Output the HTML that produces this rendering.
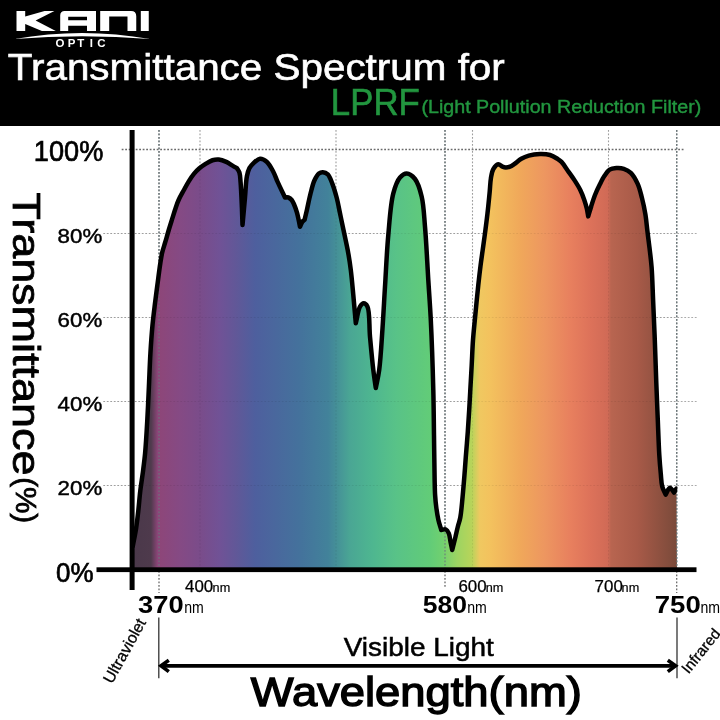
<!DOCTYPE html>
<html><head><meta charset="utf-8"><style>
html,body{margin:0;padding:0;background:#fff;width:720px;height:720px;overflow:hidden}
svg{display:block;will-change:transform}
text{font-family:"Liberation Sans", sans-serif}
</style></head><body>
<svg width="720" height="720" viewBox="0 0 720 720">
<defs>
<linearGradient id="g" gradientUnits="userSpaceOnUse" x1="131" y1="0" x2="677" y2="0">
<stop offset="0.0000" stop-color="#4a384a"/>
<stop offset="0.0366" stop-color="#4e3a4c"/>
<stop offset="0.0485" stop-color="#8a4577"/>
<stop offset="0.0531" stop-color="#8d4679"/>
<stop offset="0.0897" stop-color="#854a84"/>
<stop offset="0.1264" stop-color="#7a4c8a"/>
<stop offset="0.1630" stop-color="#705296"/>
<stop offset="0.1941" stop-color="#605898"/>
<stop offset="0.2271" stop-color="#4e5f9e"/>
<stop offset="0.3095" stop-color="#44729c"/>
<stop offset="0.3608" stop-color="#42829a"/>
<stop offset="0.4011" stop-color="#4aa694"/>
<stop offset="0.4414" stop-color="#4eb690"/>
<stop offset="0.4835" stop-color="#58c288"/>
<stop offset="0.5476" stop-color="#62cc78"/>
<stop offset="0.5696" stop-color="#70d070"/>
<stop offset="0.5971" stop-color="#9cd462"/>
<stop offset="0.6245" stop-color="#b8d45a"/>
<stop offset="0.6392" stop-color="#f0c860"/>
<stop offset="0.6575" stop-color="#f3c25e"/>
<stop offset="0.7125" stop-color="#f0a85a"/>
<stop offset="0.7582" stop-color="#ed9660"/>
<stop offset="0.8040" stop-color="#e8805e"/>
<stop offset="0.8407" stop-color="#dd725a"/>
<stop offset="0.8736" stop-color="#d06a56"/>
<stop offset="0.8791" stop-color="#b86550"/>
<stop offset="0.9267" stop-color="#a85a48"/>
<stop offset="1.0000" stop-color="#7a4a3a"/>
</linearGradient>
<clipPath id="cp"><rect x="0" y="0" width="677.3" height="720"/></clipPath>
</defs>
<rect x="0" y="0" width="720" height="126" fill="#000"/>
<!-- logo -->
<g fill="#fff">
<path d="M16.5 11 H25.2 V16.4 L44.6 11 H54.4 L35.6 20.5 L55.8 30.9 H41.9 L25.2 24.1 V30.9 H16.5 Z"/>
<path fill-rule="evenodd" d="M60.2 30.9 V15.5 Q60.2 11 64.7 11 H96 V30.9 H87 V25.8 H68.2 V30.9 Z M68.2 16.8 H87 V20.2 H68.2 Z"/>
<path d="M100.2 31 V11 H131 Q136.25 11 136.25 16.3 V31 H127.5 V16.4 H109.2 V31 Z"/>
<path d="M140.8 11 H148.75 V31 H140.8 Z"/>
<path d="M14.4 39.1 Q82 26.8 150 39.1 Q82 33.3 14.4 39.1 Z"/>
</g>
<text x="55.5 67.8 77.2 89.8 97.2" y="46.8" font-size="11.5" font-weight="bold" fill="#fff">OPTIC</text>
<text x="7.8" y="79.6" font-size="36.7" fill="#fff" stroke="#fff" stroke-width="0.6" textLength="497" lengthAdjust="spacingAndGlyphs">Transmittance Spectrum for</text>
<text x="330.8" y="115.1" font-size="36" fill="#22963f" stroke="#22963f" stroke-width="0.6" textLength="89" lengthAdjust="spacingAndGlyphs">LPRF</text>
<text x="421.4" y="113.3" font-size="18" fill="#22963f" stroke="#22963f" stroke-width="0.4" textLength="279.9" lengthAdjust="spacingAndGlyphs">(Light Pollution Reduction Filter)</text>

<!-- grid -->
<g stroke="#6a6a6a" stroke-width="1.3" stroke-dasharray="1.8 1.7" fill="none">
<path d="M121.7 149.5 H684"/>
<path d="M159 130 V593"/>
<path d="M445 130 V588"/>
<path d="M676.7 130 V593"/>
</g>
<g stroke="#ababab" stroke-width="1.1" stroke-dasharray="1.8 1.7" fill="none">
<path d="M103.3 233.5 H697.5"/><path d="M103.3 317.5 H697.5"/><path d="M103.3 401.5 H697.5"/><path d="M103.3 485.5 H697.5"/>
<path d="M200 130 V572"/>
<path d="M336 130 V572"/>
<path d="M472.5 130 V572"/>
<path d="M608.5 130 V572"/>
</g>
<path d="M132.80 546.00 C133.90 540.10 135.19 534.12 136.10 528.30 C136.98 522.69 137.54 517.56 138.20 511.70 C138.94 505.14 139.49 497.57 140.30 490.80 C141.07 484.36 142.10 478.26 142.90 472.00 C143.70 465.76 144.44 460.44 145.10 453.30 C145.97 443.80 146.67 431.10 147.30 420.00 C147.93 408.90 148.38 397.81 148.90 386.70 C149.42 375.58 149.76 363.97 150.40 353.30 C150.99 343.47 151.67 333.80 152.50 325.00 C153.23 317.28 154.16 310.16 155.00 303.30 C155.76 297.10 156.47 291.84 157.30 285.60 C158.23 278.59 159.35 269.39 160.30 263.30 C160.96 259.05 161.36 256.08 162.20 252.50 C163.05 248.88 164.33 245.37 165.40 241.70 C166.51 237.88 167.61 233.82 168.75 230.00 C169.85 226.32 170.95 222.87 172.10 219.20 C173.30 215.38 174.61 210.95 175.80 207.50 C176.76 204.71 177.41 202.64 178.60 200.00 C180.01 196.86 182.14 193.23 183.90 190.00 C185.57 186.94 187.16 183.87 188.90 181.10 C190.51 178.53 192.09 176.08 193.90 173.90 C195.61 171.84 197.43 169.98 199.40 168.30 C201.34 166.65 203.43 165.23 205.60 163.90 C207.80 162.55 210.19 160.95 212.50 160.25 C214.57 159.62 216.59 159.39 218.75 159.60 C221.16 159.83 223.92 160.87 226.25 161.90 C228.49 162.89 230.59 164.49 232.50 165.60 C234.09 166.52 235.43 167.27 236.90 168.10 C237.73 169.57 238.79 170.66 239.40 172.50 C240.25 175.09 240.25 178.41 240.60 182.50 C241.15 188.95 241.57 199.91 241.90 207.50 C242.17 213.85 242.30 219.17 242.50 225.00 C243.33 215.83 244.23 206.08 245.00 197.50 C245.68 189.96 245.85 181.63 246.90 176.25 C247.57 172.85 248.19 170.36 249.40 168.10 C250.43 166.17 251.70 164.78 253.30 163.30 C255.14 161.61 257.71 158.91 260.00 158.70 C262.18 158.50 264.69 159.99 266.70 161.70 C269.27 163.88 271.47 168.28 273.30 171.70 C275.04 174.95 275.85 178.01 277.50 181.70 C279.60 186.39 282.50 192.23 285.00 197.50 C286.10 197.50 287.25 197.15 288.30 197.50 C289.49 197.89 290.63 198.65 291.70 200.00 C293.56 202.34 295.35 207.49 296.70 211.70 C298.18 216.33 298.90 221.70 300.00 226.70 C300.83 224.97 301.55 222.70 302.50 221.50 C303.15 220.68 303.90 220.37 304.60 219.80 C305.37 216.53 306.06 213.70 306.90 210.00 C308.00 205.17 309.26 198.48 310.60 193.30 C311.78 188.73 312.78 184.03 314.40 180.50 C315.68 177.71 317.19 174.83 318.90 173.50 C320.10 172.57 321.43 172.14 322.80 172.20 C324.38 172.27 326.38 173.04 327.80 174.40 C329.71 176.23 330.85 179.91 332.20 183.30 C333.87 187.49 335.41 192.86 336.70 197.80 C338.02 202.85 338.89 208.04 340.00 213.30 C341.15 218.76 342.25 223.97 343.50 230.00 C344.98 237.12 347.03 246.16 348.30 253.30 C349.37 259.31 350.03 263.86 350.80 270.00 C351.73 277.49 352.49 286.41 353.30 295.00 C354.16 304.14 354.97 313.87 355.80 323.30 C357.20 317.77 358.03 310.00 360.00 306.70 C361.07 304.91 362.45 303.31 363.70 303.30 C364.95 303.29 366.50 304.70 367.50 306.70 C369.92 311.57 369.06 326.44 370.00 336.70 C370.99 347.51 372.18 360.60 373.30 370.00 C374.12 376.92 374.97 382.00 375.80 388.00 C376.93 382.00 378.23 377.27 379.20 370.00 C380.67 359.01 381.53 342.20 382.50 328.30 C383.47 314.43 384.09 301.32 385.00 286.70 C386.01 270.40 386.80 251.29 388.30 235.00 C389.65 220.33 390.52 203.75 393.30 193.30 C395.08 186.62 397.12 180.80 400.00 177.50 C401.94 175.27 404.37 173.45 406.70 173.50 C409.34 173.56 412.72 176.14 415.00 179.00 C418.15 182.95 420.07 189.91 421.70 196.70 C423.76 205.28 424.02 215.26 425.00 226.70 C426.31 241.92 427.27 263.51 428.30 280.00 C429.19 294.29 430.05 304.81 430.80 320.00 C431.79 340.08 432.77 369.15 433.30 390.00 C433.73 406.82 433.78 420.68 434.00 435.60 C434.21 449.99 434.36 467.04 434.60 478.00 C434.75 484.94 434.77 489.77 435.10 495.00 C435.38 499.49 435.75 503.34 436.30 507.50 C436.85 511.68 437.51 516.09 438.40 520.00 C439.21 523.54 440.33 526.67 441.30 530.00 C442.83 529.83 444.66 528.97 445.90 529.50 C447.16 530.04 448.07 531.68 448.80 533.30 C449.78 535.47 449.93 538.91 450.50 541.70 C451.07 544.48 451.63 547.23 452.20 550.00 C453.30 545.57 454.49 540.90 455.50 536.70 C456.40 532.94 457.15 529.35 458.00 526.00 C458.76 523.00 459.64 520.99 460.30 517.50 C461.32 512.12 461.92 503.65 462.60 496.70 C463.28 489.75 463.86 482.58 464.40 475.80 C464.92 469.37 465.28 463.73 465.80 457.00 C466.40 449.19 467.22 439.81 467.80 431.70 C468.34 424.19 468.78 417.09 469.20 410.00 C469.61 403.20 469.91 397.04 470.30 390.00 C470.74 382.13 471.25 373.33 471.70 365.00 C472.15 356.67 472.42 348.03 473.00 340.00 C473.54 332.51 474.23 326.30 475.00 318.30 C475.95 308.38 477.27 294.55 478.30 285.00 C479.08 277.78 479.73 272.06 480.50 266.00 C481.20 260.43 481.96 255.39 482.70 250.00 C483.46 244.49 484.24 239.12 485.00 233.30 C485.84 226.94 486.73 220.10 487.50 213.30 C488.30 206.24 489.09 198.05 489.70 191.70 C490.18 186.70 490.20 182.31 490.90 178.30 C491.49 174.95 491.90 171.64 493.30 169.20 C494.51 167.09 496.62 164.41 498.30 164.20 C499.69 164.03 501.14 166.15 502.50 166.70 C503.63 167.16 504.63 167.47 505.80 167.50 C507.11 167.53 508.64 167.21 510.00 166.70 C511.45 166.15 512.65 165.25 514.20 164.20 C516.29 162.79 518.81 160.25 521.30 158.80 C523.68 157.41 525.99 156.37 528.80 155.60 C532.11 154.69 536.37 154.18 540.00 154.10 C543.42 154.03 546.98 154.13 550.00 155.00 C552.76 155.79 555.44 157.50 557.50 158.80 C559.10 159.81 560.12 160.47 561.50 161.90 C563.51 163.99 565.67 167.69 567.80 170.70 C570.03 173.85 572.48 177.12 574.60 180.40 C576.68 183.62 578.76 186.88 580.40 190.20 C581.97 193.38 583.21 196.73 584.30 199.90 C585.31 202.85 586.14 205.76 586.80 208.60 C587.42 211.25 587.73 213.80 588.20 216.40 C589.17 213.17 590.03 210.08 591.10 206.70 C592.28 202.97 593.51 198.77 595.00 195.00 C596.45 191.31 598.21 187.65 599.90 184.30 C601.45 181.22 602.96 178.15 604.70 175.60 C606.23 173.36 607.60 170.95 609.60 169.70 C611.50 168.52 613.99 168.26 616.30 168.10 C618.72 167.93 621.42 168.05 623.80 168.80 C626.26 169.58 628.70 170.77 630.80 172.80 C633.48 175.38 635.87 179.86 637.70 183.90 C639.63 188.16 640.65 192.93 641.90 197.80 C643.25 203.06 644.48 208.84 645.40 214.40 C646.31 219.94 646.72 225.53 647.40 231.10 C648.08 236.67 648.82 242.02 649.50 247.80 C650.23 254.02 651.04 259.88 651.60 267.20 C652.33 276.70 652.59 288.52 653.10 300.00 C653.66 312.67 654.27 326.42 654.80 340.00 C655.34 354.07 655.78 369.21 656.30 383.00 C656.78 395.80 657.29 407.84 657.80 420.00 C658.29 431.83 658.70 445.12 659.30 455.00 C659.74 462.27 660.26 468.25 660.80 473.90 C661.24 478.50 661.24 482.72 662.20 486.40 C663.01 489.51 664.53 491.93 665.70 494.70 C667.10 492.40 668.42 487.92 669.90 487.80 C671.21 487.70 672.63 491.00 674.00 492.60 C674.83 491.23 675.67 489.87 676.50 488.50 L677 570 L132.5 570 Z" fill="url(#g)"/>
<g stroke="#000" stroke-opacity="0.07" stroke-width="1.1" stroke-dasharray="1.8 1.7" fill="none">
<path d="M103.3 233.5 H677"/><path d="M103.3 317.5 H677"/><path d="M103.3 401.5 H677"/><path d="M103.3 485.5 H677"/>
<path d="M200 130 V570"/><path d="M336 130 V570"/><path d="M472.5 130 V570"/><path d="M608.5 130 V570"/>
</g>
<g stroke="#6a7a7e" stroke-opacity="0.75" stroke-width="1.4" stroke-dasharray="1.8 1.7" fill="none">
<path d="M159 130 V570"/><path d="M445 130 V570"/><path d="M676.7 130 V570"/>
</g>
<path d="M132.80 546.00 C133.90 540.10 135.19 534.12 136.10 528.30 C136.98 522.69 137.54 517.56 138.20 511.70 C138.94 505.14 139.49 497.57 140.30 490.80 C141.07 484.36 142.10 478.26 142.90 472.00 C143.70 465.76 144.44 460.44 145.10 453.30 C145.97 443.80 146.67 431.10 147.30 420.00 C147.93 408.90 148.38 397.81 148.90 386.70 C149.42 375.58 149.76 363.97 150.40 353.30 C150.99 343.47 151.67 333.80 152.50 325.00 C153.23 317.28 154.16 310.16 155.00 303.30 C155.76 297.10 156.47 291.84 157.30 285.60 C158.23 278.59 159.35 269.39 160.30 263.30 C160.96 259.05 161.36 256.08 162.20 252.50 C163.05 248.88 164.33 245.37 165.40 241.70 C166.51 237.88 167.61 233.82 168.75 230.00 C169.85 226.32 170.95 222.87 172.10 219.20 C173.30 215.38 174.61 210.95 175.80 207.50 C176.76 204.71 177.41 202.64 178.60 200.00 C180.01 196.86 182.14 193.23 183.90 190.00 C185.57 186.94 187.16 183.87 188.90 181.10 C190.51 178.53 192.09 176.08 193.90 173.90 C195.61 171.84 197.43 169.98 199.40 168.30 C201.34 166.65 203.43 165.23 205.60 163.90 C207.80 162.55 210.19 160.95 212.50 160.25 C214.57 159.62 216.59 159.39 218.75 159.60 C221.16 159.83 223.92 160.87 226.25 161.90 C228.49 162.89 230.59 164.49 232.50 165.60 C234.09 166.52 235.43 167.27 236.90 168.10 C237.73 169.57 238.79 170.66 239.40 172.50 C240.25 175.09 240.25 178.41 240.60 182.50 C241.15 188.95 241.57 199.91 241.90 207.50 C242.17 213.85 242.30 219.17 242.50 225.00 C243.33 215.83 244.23 206.08 245.00 197.50 C245.68 189.96 245.85 181.63 246.90 176.25 C247.57 172.85 248.19 170.36 249.40 168.10 C250.43 166.17 251.70 164.78 253.30 163.30 C255.14 161.61 257.71 158.91 260.00 158.70 C262.18 158.50 264.69 159.99 266.70 161.70 C269.27 163.88 271.47 168.28 273.30 171.70 C275.04 174.95 275.85 178.01 277.50 181.70 C279.60 186.39 282.50 192.23 285.00 197.50 C286.10 197.50 287.25 197.15 288.30 197.50 C289.49 197.89 290.63 198.65 291.70 200.00 C293.56 202.34 295.35 207.49 296.70 211.70 C298.18 216.33 298.90 221.70 300.00 226.70 C300.83 224.97 301.55 222.70 302.50 221.50 C303.15 220.68 303.90 220.37 304.60 219.80 C305.37 216.53 306.06 213.70 306.90 210.00 C308.00 205.17 309.26 198.48 310.60 193.30 C311.78 188.73 312.78 184.03 314.40 180.50 C315.68 177.71 317.19 174.83 318.90 173.50 C320.10 172.57 321.43 172.14 322.80 172.20 C324.38 172.27 326.38 173.04 327.80 174.40 C329.71 176.23 330.85 179.91 332.20 183.30 C333.87 187.49 335.41 192.86 336.70 197.80 C338.02 202.85 338.89 208.04 340.00 213.30 C341.15 218.76 342.25 223.97 343.50 230.00 C344.98 237.12 347.03 246.16 348.30 253.30 C349.37 259.31 350.03 263.86 350.80 270.00 C351.73 277.49 352.49 286.41 353.30 295.00 C354.16 304.14 354.97 313.87 355.80 323.30 C357.20 317.77 358.03 310.00 360.00 306.70 C361.07 304.91 362.45 303.31 363.70 303.30 C364.95 303.29 366.50 304.70 367.50 306.70 C369.92 311.57 369.06 326.44 370.00 336.70 C370.99 347.51 372.18 360.60 373.30 370.00 C374.12 376.92 374.97 382.00 375.80 388.00 C376.93 382.00 378.23 377.27 379.20 370.00 C380.67 359.01 381.53 342.20 382.50 328.30 C383.47 314.43 384.09 301.32 385.00 286.70 C386.01 270.40 386.80 251.29 388.30 235.00 C389.65 220.33 390.52 203.75 393.30 193.30 C395.08 186.62 397.12 180.80 400.00 177.50 C401.94 175.27 404.37 173.45 406.70 173.50 C409.34 173.56 412.72 176.14 415.00 179.00 C418.15 182.95 420.07 189.91 421.70 196.70 C423.76 205.28 424.02 215.26 425.00 226.70 C426.31 241.92 427.27 263.51 428.30 280.00 C429.19 294.29 430.05 304.81 430.80 320.00 C431.79 340.08 432.77 369.15 433.30 390.00 C433.73 406.82 433.78 420.68 434.00 435.60 C434.21 449.99 434.36 467.04 434.60 478.00 C434.75 484.94 434.77 489.77 435.10 495.00 C435.38 499.49 435.75 503.34 436.30 507.50 C436.85 511.68 437.51 516.09 438.40 520.00 C439.21 523.54 440.33 526.67 441.30 530.00 C442.83 529.83 444.66 528.97 445.90 529.50 C447.16 530.04 448.07 531.68 448.80 533.30 C449.78 535.47 449.93 538.91 450.50 541.70 C451.07 544.48 451.63 547.23 452.20 550.00 C453.30 545.57 454.49 540.90 455.50 536.70 C456.40 532.94 457.15 529.35 458.00 526.00 C458.76 523.00 459.64 520.99 460.30 517.50 C461.32 512.12 461.92 503.65 462.60 496.70 C463.28 489.75 463.86 482.58 464.40 475.80 C464.92 469.37 465.28 463.73 465.80 457.00 C466.40 449.19 467.22 439.81 467.80 431.70 C468.34 424.19 468.78 417.09 469.20 410.00 C469.61 403.20 469.91 397.04 470.30 390.00 C470.74 382.13 471.25 373.33 471.70 365.00 C472.15 356.67 472.42 348.03 473.00 340.00 C473.54 332.51 474.23 326.30 475.00 318.30 C475.95 308.38 477.27 294.55 478.30 285.00 C479.08 277.78 479.73 272.06 480.50 266.00 C481.20 260.43 481.96 255.39 482.70 250.00 C483.46 244.49 484.24 239.12 485.00 233.30 C485.84 226.94 486.73 220.10 487.50 213.30 C488.30 206.24 489.09 198.05 489.70 191.70 C490.18 186.70 490.20 182.31 490.90 178.30 C491.49 174.95 491.90 171.64 493.30 169.20 C494.51 167.09 496.62 164.41 498.30 164.20 C499.69 164.03 501.14 166.15 502.50 166.70 C503.63 167.16 504.63 167.47 505.80 167.50 C507.11 167.53 508.64 167.21 510.00 166.70 C511.45 166.15 512.65 165.25 514.20 164.20 C516.29 162.79 518.81 160.25 521.30 158.80 C523.68 157.41 525.99 156.37 528.80 155.60 C532.11 154.69 536.37 154.18 540.00 154.10 C543.42 154.03 546.98 154.13 550.00 155.00 C552.76 155.79 555.44 157.50 557.50 158.80 C559.10 159.81 560.12 160.47 561.50 161.90 C563.51 163.99 565.67 167.69 567.80 170.70 C570.03 173.85 572.48 177.12 574.60 180.40 C576.68 183.62 578.76 186.88 580.40 190.20 C581.97 193.38 583.21 196.73 584.30 199.90 C585.31 202.85 586.14 205.76 586.80 208.60 C587.42 211.25 587.73 213.80 588.20 216.40 C589.17 213.17 590.03 210.08 591.10 206.70 C592.28 202.97 593.51 198.77 595.00 195.00 C596.45 191.31 598.21 187.65 599.90 184.30 C601.45 181.22 602.96 178.15 604.70 175.60 C606.23 173.36 607.60 170.95 609.60 169.70 C611.50 168.52 613.99 168.26 616.30 168.10 C618.72 167.93 621.42 168.05 623.80 168.80 C626.26 169.58 628.70 170.77 630.80 172.80 C633.48 175.38 635.87 179.86 637.70 183.90 C639.63 188.16 640.65 192.93 641.90 197.80 C643.25 203.06 644.48 208.84 645.40 214.40 C646.31 219.94 646.72 225.53 647.40 231.10 C648.08 236.67 648.82 242.02 649.50 247.80 C650.23 254.02 651.04 259.88 651.60 267.20 C652.33 276.70 652.59 288.52 653.10 300.00 C653.66 312.67 654.27 326.42 654.80 340.00 C655.34 354.07 655.78 369.21 656.30 383.00 C656.78 395.80 657.29 407.84 657.80 420.00 C658.29 431.83 658.70 445.12 659.30 455.00 C659.74 462.27 660.26 468.25 660.80 473.90 C661.24 478.50 661.24 482.72 662.20 486.40 C663.01 489.51 664.53 491.93 665.70 494.70 C667.10 492.40 668.42 487.92 669.90 487.80 C671.21 487.70 672.63 491.00 674.00 492.60 C674.83 491.23 675.67 489.87 676.50 488.50" clip-path="url(#cp)" fill="none" stroke="#000" stroke-width="4.5" stroke-linejoin="round" stroke-linecap="round"/>
<!-- axes -->
<rect x="129.6" y="130" width="5" height="460" fill="#000"/>
<rect x="96.5" y="567.3" width="600" height="4.8" fill="#000"/>
<!-- y labels -->
<g fill="#000" font-size="21" stroke="#000" stroke-width="0.45">
<text x="57.6" y="495.3" textLength="44.6" lengthAdjust="spacingAndGlyphs">20%</text>
<text x="57.6" y="411" textLength="44.6" lengthAdjust="spacingAndGlyphs">40%</text>
<text x="57.6" y="327" textLength="44.6" lengthAdjust="spacingAndGlyphs">60%</text>
<text x="57.6" y="242.8" textLength="44.6" lengthAdjust="spacingAndGlyphs">80%</text>
</g>
<text x="33.8" y="160.8" font-size="29.5" stroke="#000" stroke-width="0.7" textLength="69.5" lengthAdjust="spacingAndGlyphs">100%</text>
<text x="56" y="581.7" font-size="28.5" stroke="#000" stroke-width="0.7" textLength="37.5" lengthAdjust="spacingAndGlyphs">0%</text>
<g stroke="#000" stroke-width="0.8"><text transform="translate(12.5,192.4) rotate(90)" font-size="39.5" textLength="283" lengthAdjust="spacingAndGlyphs">Transmittance</text>
<text transform="translate(16.3,477.2) rotate(90)" font-size="30" textLength="46" lengthAdjust="spacingAndGlyphs">(%)</text></g>
<!-- x labels -->
<text x="185.0" y="592.1" font-size="15.6" stroke="#000" stroke-width="0.25" textLength="28.2" lengthAdjust="spacingAndGlyphs">400</text>
<text x="458.4" y="592.1" font-size="15.6" stroke="#000" stroke-width="0.25" textLength="28.2" lengthAdjust="spacingAndGlyphs">600</text>
<text x="594.6" y="592.1" font-size="15.6" stroke="#000" stroke-width="0.25" textLength="28.2" lengthAdjust="spacingAndGlyphs">700</text>
<text x="212.6" y="592.1" font-size="12.2" stroke="#000" stroke-width="0.2" textLength="17.6" lengthAdjust="spacingAndGlyphs">nm</text>
<text x="485.8" y="592.1" font-size="12.2" stroke="#000" stroke-width="0.2" textLength="17.6" lengthAdjust="spacingAndGlyphs">nm</text>
<text x="621.6" y="592.1" font-size="12.2" stroke="#000" stroke-width="0.2" textLength="17.6" lengthAdjust="spacingAndGlyphs">nm</text>
<text x="138.0" y="612.7" font-size="24.6" textLength="45.6" lengthAdjust="spacingAndGlyphs" font-weight="bold">370</text>
<text x="422.8" y="612.7" font-size="24.6" textLength="44.3" lengthAdjust="spacingAndGlyphs" font-weight="bold">580</text>
<text x="654.8" y="612.7" font-size="24.6" textLength="46.0" lengthAdjust="spacingAndGlyphs" font-weight="bold">750</text>
<text x="184.2" y="612.7" font-size="16.2" textLength="19.6" lengthAdjust="spacingAndGlyphs">nm</text>
<text x="467.2" y="612.7" font-size="16.2" textLength="19.6" lengthAdjust="spacingAndGlyphs">nm</text>
<text x="700.4" y="612.7" font-size="16.2" textLength="19.6" lengthAdjust="spacingAndGlyphs">nm</text>
<!-- visible light bracket -->
<g stroke="#333" stroke-width="1.3"><path d="M158.8 617.5 V678.3"/><path d="M677 617.5 V678.3"/></g>
<path d="M161 665.8 H675" stroke="#000" stroke-width="3.8"/>
<path d="M168.8 660.3 L161 665.8 L168.8 671.6" stroke="#000" stroke-width="3.6" fill="none" stroke-linejoin="miter"/>
<path d="M667.8 660.3 L675.6 665.8 L667.8 671.6" stroke="#000" stroke-width="3.6" fill="none" stroke-linejoin="miter"/>
<text x="343.75" y="655.5" font-size="25" stroke="#000" stroke-width="0.5" textLength="150" lengthAdjust="spacingAndGlyphs">Visible Light</text>
<text x="250.8" y="706.3" font-size="41" stroke="#000" stroke-width="1.4" textLength="331" lengthAdjust="spacingAndGlyphs">Wavelength(nm)</text>
<text transform="translate(112,684.5) rotate(-61)" font-size="16" stroke="#000" stroke-width="0.3">Ultraviolet</text>
<text transform="translate(688.5,674.5) rotate(-51)" font-size="15.2" stroke="#000" stroke-width="0.3">Infrared</text>
</svg>
</body></html>
